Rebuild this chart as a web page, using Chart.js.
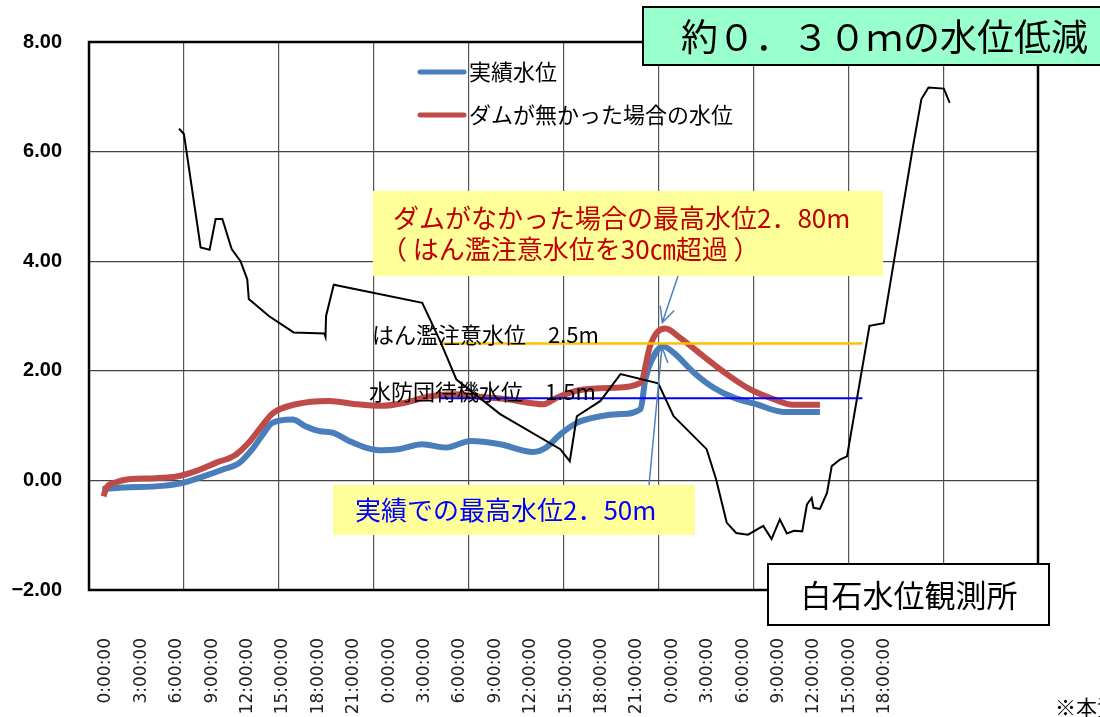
<!DOCTYPE html>
<html>
<head>
<meta charset="utf-8">
<script src="https://cdn.jsdelivr.net/npm/chart.js@4/dist/chart.umd.min.js"></script>
<style>
html, body { margin: 0; padding: 0; background: #fff; }
canvas { display: block; }
</style>
</head>
<body>
<canvas id="myChart" width="1100" height="717"></canvas>
<script>
// x is hours from the first 0:00:00 label
var tickHours = [0, 3, 6, 9, 12, 15, 18, 21, 24, 27, 30, 33, 36, 39, 42, 45, 48, 51, 54, 57, 60, 63, 66];
var tickLabels = ["0:00:00","3:00:00","6:00:00","9:00:00","12:00:00","15:00:00","18:00:00","21:00:00",
                  "0:00:00","3:00:00","6:00:00","9:00:00","12:00:00","15:00:00","18:00:00","21:00:00",
                  "0:00:00","3:00:00","6:00:00","9:00:00","12:00:00","15:00:00","18:00:00"];

// 実績水位
var blueHours  = [-0.3, 1.4, 4.8, 6.6, 8.2, 9.9, 11.3, 12.4, 13.2, 14.1, 15.8, 16.9, 18.1, 19.2, 20.6, 22.0, 23.4, 24.8, 26.8, 28.8, 30.9, 33.4, 36.2, 37.3, 38.5, 39.9, 41.9, 43.6, 45.3, 45.7, 46.4, 47.2, 48.1, 49.8, 51.5, 53.2, 55.1, 57.4, 60.5];
var blueLevels = [-0.16, -0.13, -0.10, -0.04, 0.07, 0.20, 0.32, 0.57, 0.81, 1.05, 1.11, 0.99, 0.90, 0.87, 0.72, 0.60, 0.55, 0.57, 0.66, 0.60, 0.72, 0.66, 0.52, 0.60, 0.84, 1.05, 1.17, 1.21, 1.30, 1.84, 2.27, 2.45, 2.33, 1.97, 1.69, 1.51, 1.39, 1.25, 1.25];

// ダムが無かった場合の水位
var redHours  = [-0.2, 0.0, 0.8, 1.9, 4.2, 6.2, 7.6, 9.3, 11.0, 12.1, 13.2, 14.1, 16.1, 18.9, 21.2, 23.4, 25.4, 27.4, 29.6, 31.1, 34.0, 37.1, 38.2, 40.2, 43.0, 45.3, 46.1, 46.7, 47.4, 48.6, 50.6, 52.6, 54.6, 56.6, 58.2, 60.5];
var redLevels = [-0.29, -0.15, -0.04, 0.02, 0.04, 0.08, 0.17, 0.32, 0.47, 0.69, 0.99, 1.22, 1.39, 1.45, 1.39, 1.36, 1.42, 1.53, 1.57, 1.54, 1.48, 1.39, 1.51, 1.65, 1.69, 1.78, 2.45, 2.70, 2.77, 2.61, 2.27, 1.94, 1.66, 1.48, 1.38, 1.38];

// black line
var blackHours  = [6.19, 6.6, 6.75, 8.02, 8.78, 9.29, 9.86, 10.65, 11.4, 11.97, 12.1, 13.8, 15.9, 18.5, 18.6, 18.65, 19.3, 26.8, 28.3, 29.7, 33.4, 38.5, 39.3, 39.9, 41.9, 43.6, 46.8, 48.1, 50.9, 51.7, 52.6, 53.4, 54.4, 55.7, 56.4, 57.1, 57.7, 58.3, 59.0, 59.4, 59.8, 59.95, 60.5, 61.1, 61.5, 62.2, 62.8, 64.7, 65.9, 68.4, 69.1, 69.7, 71.0, 71.5];
var blackLevels = [6.42, 6.32, 6.11, 4.25, 4.21, 4.77, 4.77, 4.22, 4.0, 3.67, 3.31, 3.0, 2.70, 2.68, 2.62, 3.0, 3.57, 3.24, 2.55, 1.84, 1.21, 0.57, 0.35, 1.17, 1.45, 1.94, 1.77, 1.17, 0.57, 0.02, -0.77, -0.96, -0.99, -0.83, -1.07, -0.71, -0.97, -0.92, -0.93, -0.44, -0.32, -0.50, -0.52, -0.23, 0.26, 0.38, 0.44, 2.82, 2.87, 6.11, 6.96, 7.17, 7.15, 6.89];

// はん濫注意水位 / 水防団待機水位
var levelLineHours = [28.3, 64.1];
var cautionLevel = [2.5, 2.5];
var standbyLevel = [1.5, 1.5];

var gridSteps = [0, 1, 2, 3, 4, 5, 6, 7, 8, 9, 10];

var jp = '"Noto Sans CJK JP", sans-serif';

function pts(xs, ys) {
    return xs.map(function (h, i) { return {x: h, y: ys[i]}; });
}

function arrow(ctx, x1, y1, x2, y2) {
    var ang = Math.atan2(y2 - y1, x2 - x1), len = 17, sp = 0.45;
    ctx.beginPath();
    ctx.moveTo(x1, y1); ctx.lineTo(x2, y2);
    ctx.moveTo(x2 - len * Math.cos(ang - sp), y2 - len * Math.sin(ang - sp));
    ctx.lineTo(x2, y2);
    ctx.lineTo(x2 - len * Math.cos(ang + sp), y2 - len * Math.sin(ang + sp));
    ctx.stroke();
}

var overlay = {
    id: 'overlay',
    beforeDraw: function (chart) {
        var ctx = chart.ctx;
        ctx.save();
        ctx.fillStyle = '#fff';
        ctx.fillRect(0, 0, chart.width, chart.height);
        ctx.restore();
    },
    afterDatasetsDraw: function (chart) {
        var ctx = chart.ctx, a = chart.chartArea, xs = chart.scales.x, ys = chart.scales.y;
        var ds = chart.data.datasets;
        ctx.save();

        // plot frame
        ctx.strokeStyle = '#000';
        ctx.lineWidth = 2.5;
        ctx.strokeRect(a.left, a.top, a.right - a.left, a.bottom - a.top);

        // legend
        ctx.textAlign = 'left';
        ctx.textBaseline = 'middle';
        [[0, 72], [1, 115]].forEach(function (l) {
            ctx.strokeStyle = ds[l[0]].borderColor;
            ctx.lineWidth = 5;
            ctx.lineCap = 'round';
            ctx.beginPath(); ctx.moveTo(420, l[1]); ctx.lineTo(464, l[1]); ctx.stroke();
            ctx.fillStyle = '#000';
            ctx.font = '22px ' + jp;
            ctx.fillText(ds[l[0]].label, 469, l[1]);
        });

        // level labels
        ctx.font = '22px ' + jp;
        ctx.fillStyle = '#000';
        ctx.fillText('はん濫注意水位　2.5m', 372, ys.getPixelForValue(cautionLevel[0]) - 9);
        ctx.fillText('水防団待機水位　1.5m', 369, ys.getPixelForValue(standbyLevel[0]) - 7);

        // yellow notes
        ctx.fillStyle = '#ffff99';
        ctx.fillRect(373, 191, 510, 85);
        ctx.fillRect(333, 485, 362, 50);
        ctx.font = '26px ' + jp;
        ctx.fillStyle = '#c00000';
        ctx.fillText('ダムがなかった場合の最高水位2．80m', 393, 218);
        ctx.fillText('（ はん濫注意水位を30㎝超過 ）', 381, 249);
        ctx.fillStyle = '#0000ff';
        ctx.fillText('実績での最高水位2．50m', 355, 510);

        // arrows to the peaks
        var ri = redLevels.indexOf(Math.max.apply(null, redLevels));
        var bi = blueLevels.indexOf(Math.max.apply(null, blueLevels));
        ctx.strokeStyle = '#4f81bd';
        ctx.lineWidth = 1.5;
        ctx.lineCap = 'butt';
        arrow(ctx, 678, 276, xs.getPixelForValue(redHours[ri]) - 3, ys.getPixelForValue(redLevels[ri]) - 6);
        arrow(ctx, 649, 485, xs.getPixelForValue(blueHours[bi]) - 1, ys.getPixelForValue(blueLevels[bi]) + 1);

        // title box
        ctx.fillStyle = '#99ffcc';
        ctx.fillRect(643, 7, 470, 58);
        ctx.strokeStyle = '#000';
        ctx.lineWidth = 2;
        ctx.strokeRect(643, 7, 470, 58);
        ctx.fillStyle = '#000';
        ctx.font = '37px ' + jp;
        ctx.fillText('約０．３０ｍの水位低減', 681, 37);

        // station box
        ctx.fillStyle = '#fff';
        ctx.fillRect(768, 564, 281, 61);
        ctx.strokeRect(768, 564, 281, 61);
        ctx.fillStyle = '#000';
        ctx.font = '31px ' + jp;
        ctx.textAlign = 'center';
        ctx.fillText('白石水位観測所', 909, 595);

        ctx.textAlign = 'left';
        ctx.font = '21px ' + jp;
        ctx.fillText('※本資料', 1055, 707);
        ctx.restore();
    }
};

var lineChart = new Chart(document.getElementById('myChart'), {
    type: 'line',
    data: {
        datasets: [
            {
                label: '実績水位',
                data: pts(blueHours, blueLevels),
                borderColor: '#4a7ebb',
                borderWidth: 6,
                pointRadius: 0,
                cubicInterpolationMode: 'monotone',
                fill: false,
                xAxisID: 'x', yAxisID: 'y',
                order: 3
            },
            {
                label: 'ダムが無かった場合の水位',
                data: pts(redHours, redLevels),
                borderColor: '#be4b48',
                borderWidth: 6,
                pointRadius: 0,
                cubicInterpolationMode: 'monotone',
                fill: false,
                xAxisID: 'x', yAxisID: 'y',
                order: 2
            },
            {
                label: 'はん濫注意水位',
                data: pts(levelLineHours, cautionLevel),
                borderColor: '#ffc000',
                borderWidth: 2.5,
                pointRadius: 0,
                xAxisID: 'x', yAxisID: 'y',
                order: 1
            },
            {
                label: '水防団待機水位',
                data: pts(levelLineHours, standbyLevel),
                borderColor: '#0000ff',
                borderWidth: 2,
                pointRadius: 0,
                xAxisID: 'x', yAxisID: 'y',
                order: 1
            },
            {
                label: '',
                data: pts(blackHours, blackLevels),
                borderColor: '#000',
                borderWidth: 2,
                pointRadius: 0,
                tension: 0,
                xAxisID: 'x', yAxisID: 'y',
                order: 0
            }
        ]
    },
    options: {
        responsive: false,
        animation: false,
        devicePixelRatio: 1,
        events: [],
        layout: {padding: {top: 42, right: 62, left: 0, bottom: 0}},
        plugins: {legend: {display: false}, tooltip: {enabled: false}},
        scales: {
            x: {
                type: 'linear',
                position: 'bottom',
                min: -1.44,
                max: 78.98,
                afterBuildTicks: function (s) { s.ticks = tickHours.map(function (h) { return {value: h}; }); },
                afterFit: function (s) { s.height = 127; },
                grid: {display: false, drawTicks: false},
                border: {display: false},
                ticks: {
                    autoSkip: false,
                    minRotation: 90,
                    maxRotation: 90,
                    padding: 48,
                    color: '#222',
                    font: {family: 'DejaVu Sans', size: 17},
                    callback: function (v, i) { return tickLabels[i]; }
                }
            },
            x2: {
                type: 'linear',
                position: 'top',
                min: 0,
                max: 10,
                afterBuildTicks: function (s) { s.ticks = gridSteps.map(function (g) { return {value: g}; }); },
                afterFit: function (s) { s.height = 0; },
                grid: {color: '#555', lineWidth: 1.2, drawTicks: false},
                border: {display: false},
                ticks: {display: false}
            },
            y: {
                min: -2,
                max: 8,
                afterFit: function (s) { s.width = 89; },
                grid: {color: '#444', lineWidth: 1.2, drawTicks: false},
                border: {display: false},
                ticks: {
                    stepSize: 2,
                    padding: 27,
                    color: '#000',
                    font: {family: 'Liberation Sans', size: 20, weight: 'bold'},
                    callback: function (v) { return v < 0 ? '\u2212' + Math.abs(v).toFixed(2) : v.toFixed(2); }
                }
            }
        }
    },
    plugins: [overlay]
});
</script>
</body>
</html>
